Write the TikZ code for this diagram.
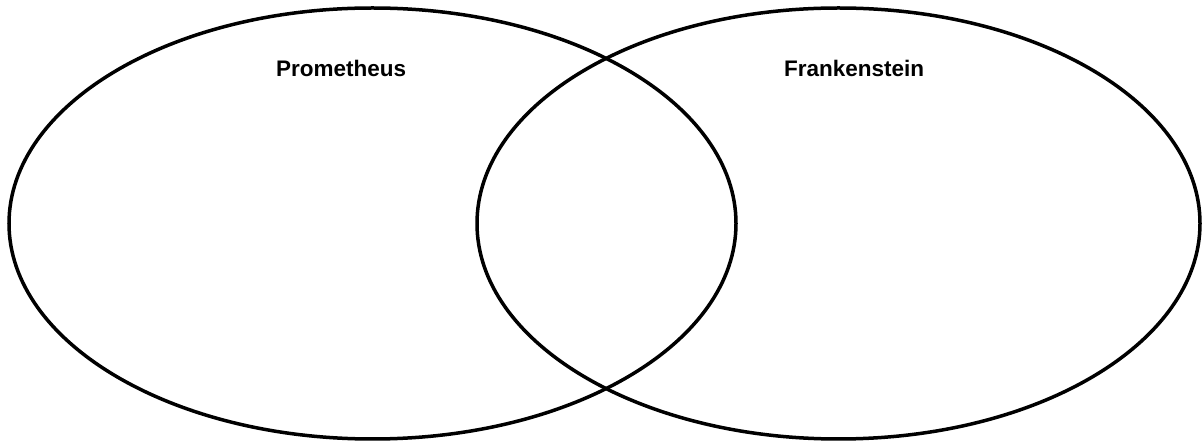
\documentclass[tikz,border=0pt]{standalone}
\usepackage{fontspec}
\setmainfont{Liberation Sans}
\begin{document}
\begin{tikzpicture}[x=1pt,y=-1pt,
  venn/.style={draw=black,line width=3.5pt},
  lbl/.style={font=\bfseries\fontsize{22.5}{26}\selectfont,inner sep=0pt,anchor=base west}]
\useasboundingbox (0,0) rectangle (1203,443);
\draw[venn] (372.5,223.5) ellipse [x radius=363.5,y radius=215.5];
\draw[venn] (838.5,223.5) ellipse [x radius=361.5,y radius=215.5];
\node[lbl] (p) at (276,77) {Prometheus};
\node[lbl] (f) at (784,77) {Frankenstein};
\end{tikzpicture}
\end{document}
